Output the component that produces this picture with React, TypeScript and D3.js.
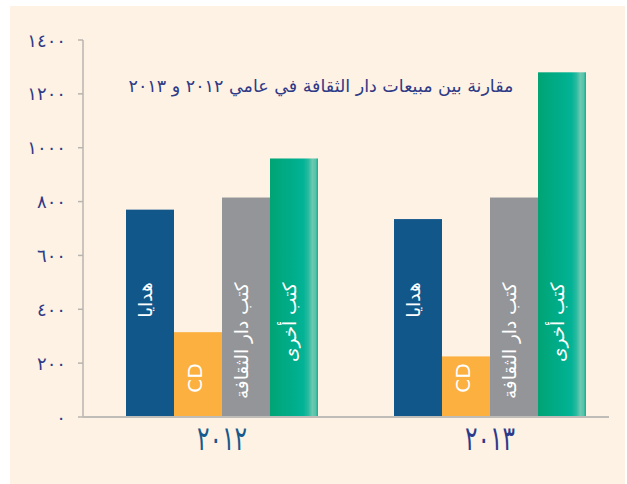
import React from 'react';
import * as d3 from 'd3';

const years = ['2012', '2013'];
const yearLabels = ['٢٠١٢', '٢٠١٣'];
const categories = ['هدايا', 'CD', 'كتب دار الثقافة', 'كتب أخرى'];
const sales2012 = [770, 315, 815, 960];
const sales2013 = [735, 225, 815, 1280];
const yTicks = [0, 200, 400, 600, 800, 1000, 1200, 1400];
const title = 'مقارنة بين مبيعات دار الثقافة في عامي ٢٠١٢ و ٢٠١٣';

const W = 627;
const H = 484;
const AR = 'DejaVu Sans, sans-serif';
const toArabicDigits = (s: string) => s.replace(/[0-9]/g, (d) => '٠١٢٣٤٥٦٧٨٩'[+d]);

export default function App() {
  const y = d3.scaleLinear().domain([0, 1400]).range([417, 40]);
  const x0 = d3.scaleBand().domain(years).range([88, 624]);
  const groupW = 192;
  const x1 = d3.scaleBand().domain(categories).range([0, groupW]);
  const series = [sales2012, sales2013];
  const colors = ['#12578A', '#FBB040', '#939598', 'url(#greenGrad)'];
  const yearColors = ['#17598C', '#2C3A8C'];
  const fmt = d3.format('d');
  const labelTop = y(500);
  const cdMid = y(145);

  return (
    <svg width={W} height={H} style={{ position: 'absolute', left: 0, top: 0 }}>
      <defs>
        <linearGradient id="greenGrad" x1="0" y1="0" x2="1" y2="0">
          <stop offset="0" stopColor="#00A474" />
          <stop offset="0.5" stopColor="#00AE8C" />
          <stop offset="0.7" stopColor="#02B396" />
          <stop offset="0.8" stopColor="#2ABAA0" />
          <stop offset="0.88" stopColor="#6BC9B1" />
          <stop offset="0.95" stopColor="#58C3AA" />
          <stop offset="1" stopColor="#08AF92" />
        </linearGradient>
      </defs>
      <rect x={10} y={6} width={615} height={478} fill="#FDF2E3" />

      {/* y axis */}
      <line x1={83} x2={83} y1={y(1400)} y2={y(0)} stroke="#B8B4AF" strokeWidth={1.5} />
      {yTicks.map((t) => (
        <g key={t}>
          <line x1={78} x2={83} y1={y(t)} y2={y(t)} stroke="#B8B4AF" strokeWidth={1.5} />
          <text
            x={66}
            y={y(t)}
            textAnchor="end"
            dominantBaseline="central"
            fontFamily={AR}
            fontSize={18}
            fill="#2E3A87"
          >
            {toArabicDigits(fmt(t))}
          </text>
        </g>
      ))}

      {/* bars */}
      {years.map((yr, gi) => {
        const gx = (x0(yr) as number) + (x0.bandwidth() - groupW) / 2;
        return (
          <g key={yr}>
            {categories.map((c, ci) => {
              const v = series[gi][ci];
              const bx = gx + (x1(c) as number);
              return (
                <rect
                  key={c}
                  x={bx}
                  y={y(v)}
                  width={x1.bandwidth()}
                  height={y(0) - y(v)}
                  fill={colors[ci]}
                />
              );
            })}
            {categories.map((c, ci) => {
              const cx = gx + (x1(c) as number) + x1.bandwidth() / 2;
              if (c === 'CD') {
                return (
                  <text
                    key={c}
                    transform={`rotate(-90)`}
                    x={-cdMid}
                    y={cx + 4}
                    textAnchor="middle"
                    fontFamily={AR}
                    fontSize={20}
                    fill="#FFFFFF"
                  >
                    {c}
                  </text>
                );
              }
              return (
                <text
                  key={c}
                  transform={`rotate(-90)`}
                  x={-labelTop}
                  y={cx + 2}
                  textAnchor="end"
                  fontFamily={AR}
                  fontSize={18.5}
                  fill="#FFFFFF"
                >
                  {c}
                </text>
              );
            })}
            <text
              x={(x0(yr) as number) + x0.bandwidth() / 2}
              y={450}
              textAnchor="middle"
              fontFamily={AR}
              fontSize={34}
              textLength={50}
              lengthAdjust="spacingAndGlyphs"
              fill={yearColors[gi]}
            >
              {yearLabels[gi]}
            </text>
          </g>
        );
      })}

      {/* baseline */}
      <line x1={83} x2={609} y1={y(0)} y2={y(0)} stroke="#C0BCB7" strokeWidth={2} />

      {/* title */}
      <text
        x={321}
        y={92}
        textAnchor="middle"
        direction="rtl"
        fontFamily={AR}
        fontSize={17.5}
        fill="#2E3A87"
      >
        {title}
      </text>
    </svg>
  );
}
